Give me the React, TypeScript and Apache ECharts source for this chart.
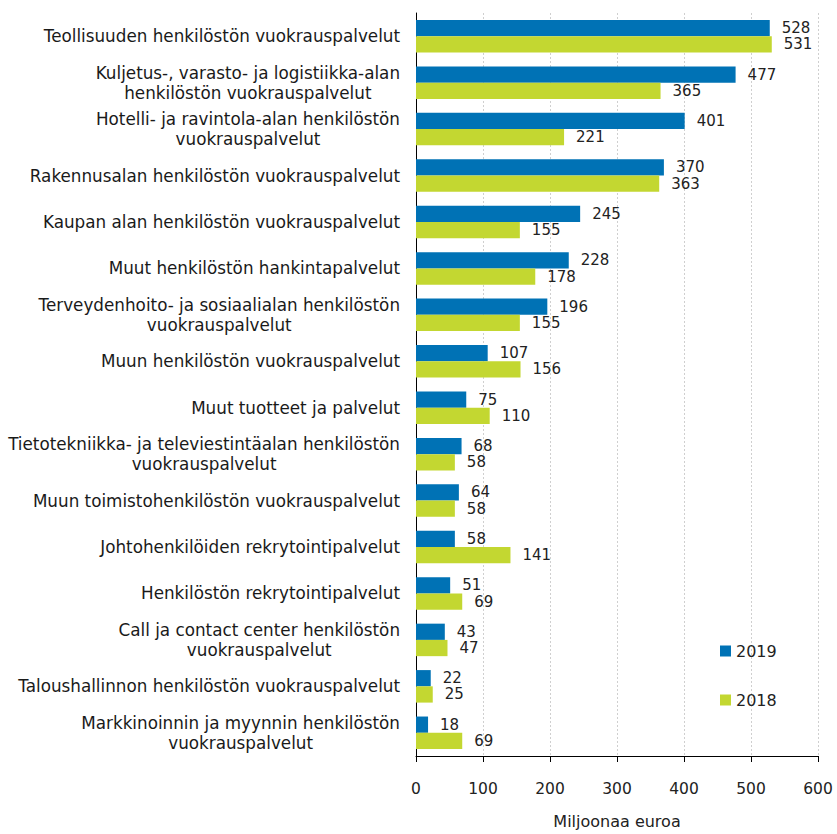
import React, { useEffect, useRef } from "react";
import * as echarts from "echarts";

const categories = [
  "Teollisuuden henkilöstön vuokrauspalvelut",
  "Kuljetus-, varasto- ja logistiikka-alan\nhenkilöstön vuokrauspalvelut",
  "Hotelli- ja ravintola-alan henkilöstön\nvuokrauspalvelut",
  "Rakennusalan henkilöstön vuokrauspalvelut",
  "Kaupan alan henkilöstön vuokrauspalvelut",
  "Muut henkilöstön hankintapalvelut",
  "Terveydenhoito- ja sosiaalialan henkilöstön\nvuokrauspalvelut",
  "Muun henkilöstön vuokrauspalvelut",
  "Muut tuotteet ja palvelut",
  "Tietotekniikka- ja televiestintäalan henkilöstön\nvuokrauspalvelut",
  "Muun toimistohenkilöstön vuokrauspalvelut",
  "Johtohenkilöiden rekrytointipalvelut",
  "Henkilöstön rekrytointipalvelut",
  "Call ja contact center henkilöstön\nvuokrauspalvelut",
  "Taloushallinnon henkilöstön vuokrauspalvelut",
  "Markkinoinnin ja myynnin henkilöstön\nvuokrauspalvelut",
];

const values2019 = [528, 477, 401, 370, 245, 228, 196, 107, 75, 68, 64, 58, 51, 43, 22, 18];
const values2018 = [531, 365, 221, 363, 155, 178, 155, 156, 110, 58, 58, 141, 69, 47, 25, 69];

const xTicks = [0, 100, 200, 300, 400, 500, 600];
const axisName = "Miljoonaa euroa";
const seriesNames = ["2019", "2018"];

const BLUE = "#0072B5";
const GREEN = "#C3D731";

export default function App() {
  const ref = useRef<HTMLDivElement>(null);

  useEffect(() => {
    document.body.style.margin = "0";
    if (!ref.current) return;
    const chart = echarts.init(ref.current, null, { renderer: "svg" });
    const labelStyle = {
      show: true,
      position: "right" as const,
      distance: 12,
      color: "#222",
      fontFamily: "DejaVu Sans",
      fontSize: 15,
    };
    chart.setOption({
      animation: false,
      backgroundColor: "#ffffff",
      grid: { left: 416, right: 19, top: 13, bottom: 71, containLabel: false },
      legend: {
        orient: "vertical",
        left: 715,
        top: 638,
        itemGap: 33,
        itemWidth: 11,
        itemHeight: 11,
        icon: "rect",
        textStyle: { fontFamily: "DejaVu Sans", fontSize: 16, color: "#222" },
        data: seriesNames,
      },
      xAxis: {
        type: "value",
        min: xTicks[0],
        max: xTicks[xTicks.length - 1],
        interval: 100,
        position: "bottom",
        name: axisName,
        nameLocation: "middle",
        nameGap: 57,
        nameTextStyle: { fontFamily: "DejaVu Sans", fontSize: 16, color: "#222" },
        axisLine: { show: true, lineStyle: { color: "#000", width: 1 } },
        axisTick: { show: true, length: 6, lineStyle: { color: "#000" } },
        axisLabel: { fontFamily: "DejaVu Sans", fontSize: 15.5, color: "#222", margin: 25 },
        splitLine: { show: true, lineStyle: { color: "#cfcfcf", type: [2, 2], width: 1 } },
      },
      yAxis: {
        type: "category",
        inverse: true,
        data: categories,
        axisLine: { show: true, lineStyle: { color: "#000", width: 1 } },
        axisTick: { show: false },
        axisLabel: {
          margin: 16,
          fontFamily: "DejaVu Sans",
          fontSize: 16.8,
          color: "#1a1a1a",
          lineHeight: 20,
          formatter: (v: string) =>
            v
              .split("\n")
              .map((l) => "{a|" + l + "}")
              .join("\n"),
          rich: {
            a: {
              align: "center",
              fontFamily: "DejaVu Sans",
              fontSize: 16.8,
              color: "#1a1a1a",
              lineHeight: 20,
            },
          },
        },
      },
      series: [
        {
          name: seriesNames[0],
          type: "bar",
          data: values2019,
          barGap: "0%",
          barCategoryGap: "30%",
          itemStyle: { color: BLUE },
          label: labelStyle,
        },
        {
          name: seriesNames[1],
          type: "bar",
          data: values2018,
          barGap: "0%",
          barCategoryGap: "30%",
          itemStyle: { color: GREEN },
          label: labelStyle,
        },
      ],
    });
    return () => chart.dispose();
  }, []);

  return <div ref={ref} style={{ width: 837, height: 834 }} />;
}
